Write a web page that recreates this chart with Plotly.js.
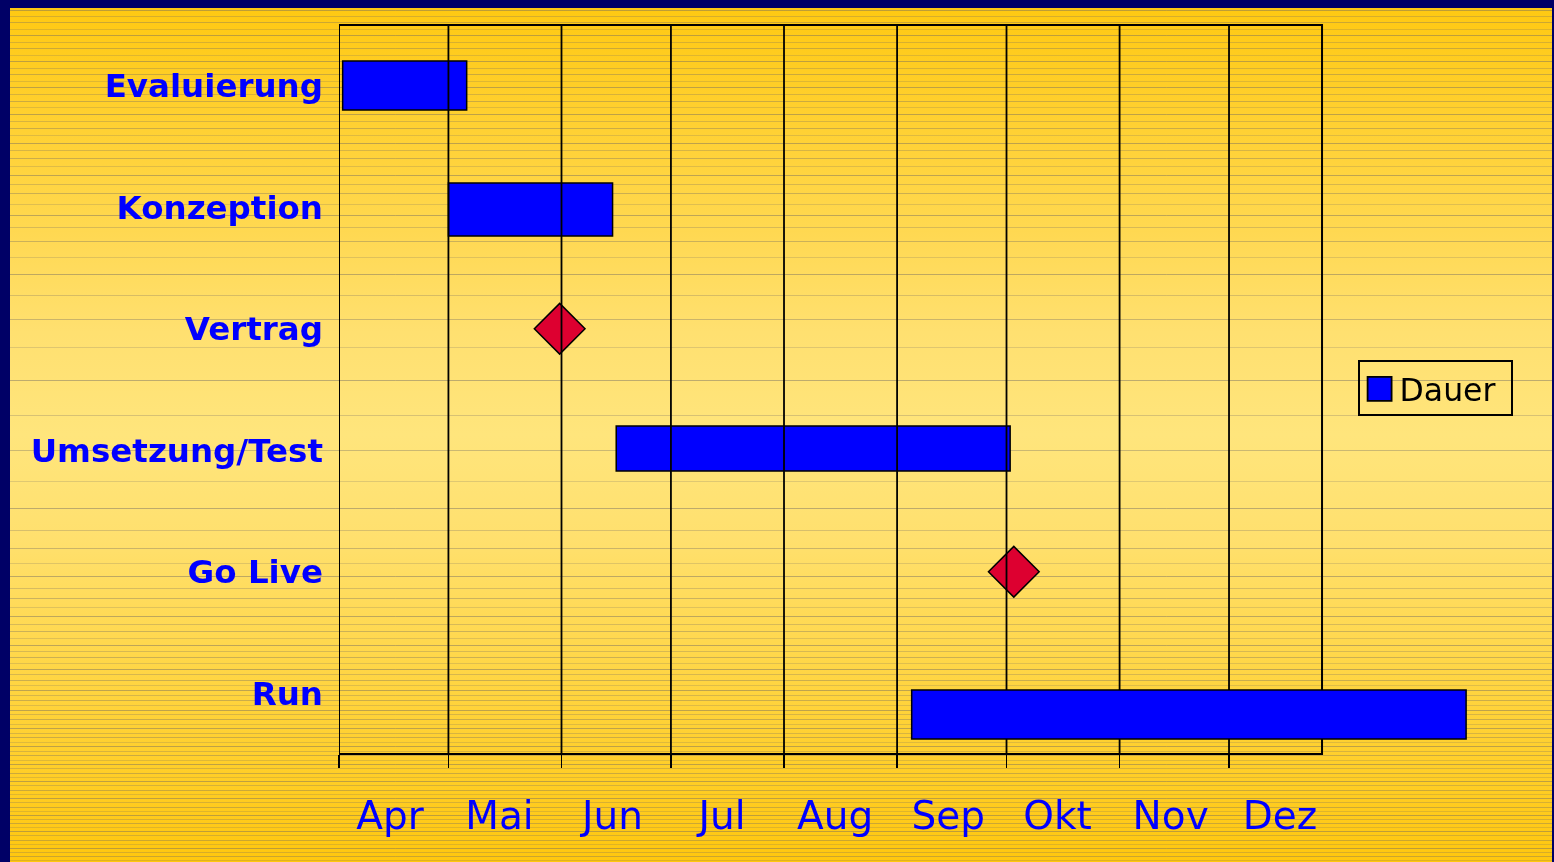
<!DOCTYPE html>
<html>
<head>
<meta charset="utf-8">
<script src="https://cdn.plot.ly/plotly-3.0.1.min.js"></script>
<style>
html,body{margin:0;padding:0;width:1554px;height:862px;overflow:hidden;background:#000066;}
#bg{position:absolute;left:10px;top:8px;}
#chart{position:absolute;left:0;top:0;width:1554px;height:862px;}
</style>
</head>
<body>
<canvas id="bg" width="1542" height="854"></canvas>
<div id="chart"></div>
<script>
// ---------- data ----------
const tasks = ['Evaluierung', 'Konzeption', 'Vertrag', 'Umsetzung/Test', 'Go Live', 'Run'];

const barTasks = ['Evaluierung', 'Konzeption', 'Umsetzung/Test', 'Run'];
const barStart = ['2009-04-02', '2009-05-01', '2009-06-16', '2009-09-05'];
const barEnd   = ['2009-05-06', '2009-06-15', '2009-10-02', '2010-02-04'];

const milestoneTasks = ['Vertrag', 'Go Live'];
const milestoneDate  = ['2009-05-31 12:00', '2009-10-03'];

const months     = ['Apr', 'Mai', 'Jun', 'Jul', 'Aug', 'Sep', 'Okt', 'Nov', 'Dez'];
const monthStart = ['2009-04-01', '2009-05-01', '2009-06-01', '2009-07-01', '2009-08-01',
                    '2009-09-01', '2009-10-01', '2009-11-01', '2009-12-01'];

const seriesName = 'Dauer';

// ---------- styling (not data) ----------
const barBand = {            // [offset, thickness] in row units
  'Evaluierung':    [-0.204, 0.403],
  'Konzeption':     [-0.200, 0.436],
  'Umsetzung/Test': [-0.200, 0.370],
  'Run':            [-0.027, 0.403]
};
const topLayerTasks = ['Run'];   // drawn above the month lines
const X_RANGE = ['2009-04-01', '2010-02-10'];
const FRAME_END = '2009-12-26 12:00';
const Y_RANGE = [5.5, -0.5];

// ---------- background ----------
(function () {
  const c = document.getElementById('bg');
  const g = c.getContext('2d');
  const W = c.width, H = c.height;
  const gr = g.createLinearGradient(0, 0, 0, H);
  gr.addColorStop(0.00, '#FFC912');
  gr.addColorStop(0.18, '#FFD33C');
  gr.addColorStop(0.38, '#FFE070');
  gr.addColorStop(0.50, '#FFE57C');
  gr.addColorStop(0.62, '#FFE06E');
  gr.addColorStop(0.82, '#FFD33A');
  gr.addColorStop(1.00, '#FFC70E');
  g.fillStyle = gr;
  g.fillRect(0, 0, W, H);
  let y = 1.5, k = 0;
  const alphas = [0.45, 0.28, 0.36, 0.22];
  while (y < H) {
    const t = (y + 8) / 862;
    const s = 6.5 - 2.5 * t + 30 * Math.exp(-Math.pow((t - 0.46) / 0.17, 2));
    g.strokeStyle = 'rgba(110,105,100,' + alphas[k % 4] + ')';
    g.lineWidth = 1;
    g.beginPath();
    g.moveTo(0, Math.round(y) + 0.5);
    g.lineTo(W, Math.round(y) + 0.5);
    g.stroke();
    y += s; k++;
  }
})();

// ---------- traces ----------
const rowOf = name => tasks.indexOf(name);
const dur = (a, b) => Date.parse(b) - Date.parse(a);

function barTrace(filterFn, axes, showlegend) {
  const idx = barTasks.map((t, i) => i).filter(i => filterFn(barTasks[i]));
  return Object.assign({
    type: 'bar',
    orientation: 'h',
    name: seriesName,
    y: idx.map(i => rowOf(barTasks[i])),
    base: idx.map(i => barStart[i]),
    x: idx.map(i => dur(barStart[i], barEnd[i])),
    offset: idx.map(i => barBand[barTasks[i]][0]),
    width: idx.map(i => barBand[barTasks[i]][1]),
    marker: { color: '#0000FF', line: { color: '#000000', width: 1.5 } },
    showlegend: showlegend,
    legendgroup: 'dauer',
    hoverinfo: 'skip'
  }, axes);
}

const mainBars = barTrace(t => topLayerTasks.indexOf(t) < 0, {}, true);
const topBars = barTrace(t => topLayerTasks.indexOf(t) >= 0, { xaxis: 'x2', yaxis: 'y2' }, false);

const milestones = {
  type: 'scatter',
  mode: 'markers',
  x: milestoneDate,
  y: milestoneTasks.map(rowOf),
  marker: { symbol: 'diamond', size: 39, color: '#DD0030', line: { color: '#000000', width: 1.5 } },
  showlegend: false,
  hoverinfo: 'skip',
  cliponaxis: false
};

const gx = [], gy = [];
monthStart.forEach(d => { gx.push(d, d, null); gy.push(Y_RANGE[1], Y_RANGE[0], null); });
const monthLines = {
  type: 'scatter',
  mode: 'lines',
  x: gx,
  y: gy,
  line: { color: '#000000', width: 1.8 },
  showlegend: false,
  hoverinfo: 'skip'
};

const labelDates = monthStart.map(d => d.slice(0, 8) + '15');

const layout = {
  width: 1554,
  height: 862,
  margin: { l: 339, r: 66, t: 25, b: 108, pad: 0 },
  paper_bgcolor: 'rgba(0,0,0,0)',
  plot_bgcolor: 'rgba(0,0,0,0)',
  font: { family: 'DejaVu Sans' },
  showlegend: true,
  legend: {
    x: 0.8865, y: 0.5405, xanchor: 'left', yanchor: 'top',
    bgcolor: 'rgba(0,0,0,0)', bordercolor: '#000000', borderwidth: 2,
    font: { family: 'DejaVu Sans', size: 31.5, color: '#000000' }
  },
  xaxis: {
    type: 'date', range: X_RANGE, fixedrange: true,
    tickmode: 'array', tickvals: labelDates, ticktext: months,
    ticks: '', showgrid: false, zeroline: false, showline: false,
    tickfont: { family: 'DejaVu Sans', size: 39, color: '#0000FF' },
    ticklabelstandoff: 35,
    minor: { tickmode: 'array', tickvals: monthStart, ticks: 'outside', ticklen: 13,
             tickwidth: 1.8, tickcolor: '#000000', showgrid: false }
  },
  yaxis: {
    range: Y_RANGE, fixedrange: true,
    tickmode: 'array', tickvals: tasks.map((t, i) => i), ticktext: tasks,
    ticks: '', showgrid: false, zeroline: false, showline: false,
    tickfont: { family: 'DejaVu Sans', size: 32.5, color: '#0000FF', weight: 'bold' },
    ticklabelstandoff: 15
  },
  xaxis2: { type: 'date', range: X_RANGE, overlaying: 'x', visible: false, fixedrange: true },
  yaxis2: { range: Y_RANGE, overlaying: 'y', visible: false, fixedrange: true },
  shapes: [{
    type: 'rect', xref: 'x', yref: 'paper', x0: monthStart[0], x1: FRAME_END, y0: 0, y1: 1,
    line: { color: '#000000', width: 2 }, layer: 'below'
  }]
};

Plotly.newPlot('chart', [mainBars, milestones, monthLines, topBars], layout,
  { displayModeBar: false, staticPlot: true }).then(gd => {
  gd.querySelectorAll('.legend .legendpoints path').forEach(p => {
    const t = p.getAttribute('transform') || '';
    p.setAttribute('transform', t + ' scale(2)');
    p.style.strokeWidth = '0.9px';
  });
  gd.querySelectorAll('.legend rect.bg').forEach(r => {
    const w = parseFloat(r.getAttribute('width'));
    const h = parseFloat(r.getAttribute('height'));
    if (!isNaN(w)) r.setAttribute('width', w + 10);
    if (!isNaN(h)) r.setAttribute('height', h - 2);
  });
});
</script>
</body>
</html>
